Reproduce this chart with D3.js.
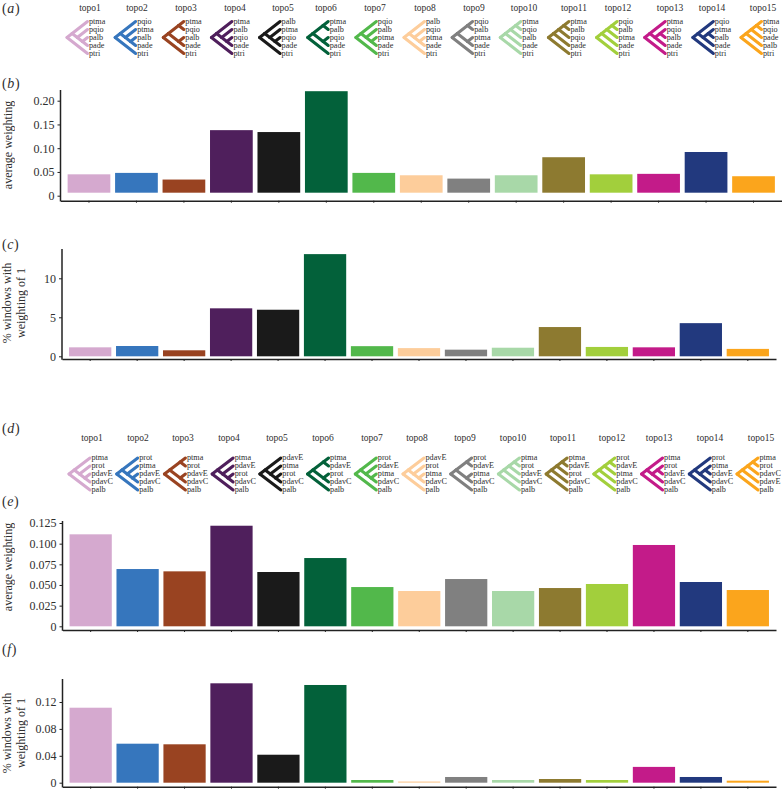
<!DOCTYPE html>
<html>
<head>
<meta charset="utf-8">
<script src="https://cdn.jsdelivr.net/npm/d3@7/dist/d3.min.js"></script>
<style>
  html, body { margin: 0; padding: 0; background: #fff; }
  svg { display: block; }
  text { font-family: "Liberation Serif", serif; fill: #2b2b2b; opacity: 0.98; }
</style>
</head>
<body>
<svg id="chart" width="782" height="789"></svg>
<script>
// ################################### Data #######################################

var topoNames = ["topo1", "topo2", "topo3", "topo4", "topo5", "topo6", "topo7", "topo8",
                 "topo9", "topo10", "topo11", "topo12", "topo13", "topo14", "topo15"];

var topoColors = ["#d5a9cf", "#3676bd", "#994321", "#4f1f5c", "#1a1a1a", "#03613a", "#52b84b", "#fdcd9b",
                  "#808080", "#a8d8a8", "#8d7a30", "#a2cf3c", "#c31b89", "#22397e", "#fba51c"];

// tree shapes, a-d are the ingroup and e the outgroup
var topologies = [
    [["a", ["b", ["c", "d"]]], "e"],
    [["b", ["a", ["c", "d"]]], "e"],
    [[["a", "b"], ["c", "d"]], "e"],
    [["a", ["c", ["b", "d"]]], "e"],
    [["c", ["a", ["b", "d"]]], "e"],
    [[["a", "c"], ["b", "d"]], "e"],
    [["b", ["c", ["a", "d"]]], "e"],
    [["c", ["b", ["a", "d"]]], "e"],
    [[["b", "c"], ["a", "d"]], "e"],
    [[[["a", "b"], "c"], "d"], "e"],
    [[[["a", "c"], "b"], "d"], "e"],
    [[[["b", "c"], "a"], "d"], "e"],
    [["a", [["b", "c"], "d"]], "e"],
    [["b", [["a", "c"], "d"]], "e"],
    [[[["a", "b"], "d"], "c"], "e"]
];

var taxaTop = {a: "ptma", b: "pqio", c: "palb", d: "pade", e: "ptri"};
var taxaBottom = {a: "ptma", b: "prot", c: "pdavE", d: "pdavC", e: "palb"};

var avgWeightTop = [0.045, 0.048, 0.034, 0.138, 0.134, 0.22, 0.048, 0.043, 0.036, 0.043, 0.081, 0.045, 0.046, 0.092, 0.041];
var pctWindowsTop = [1.15, 1.32, 0.77, 6.15, 5.97, 13.1, 1.3, 1.05, 0.85, 1.1, 3.75, 1.2, 1.15, 4.25, 0.95];
var avgWeightBottom = [0.1113, 0.0693, 0.0665, 0.1217, 0.0657, 0.0826, 0.0475, 0.0427, 0.0572, 0.0427, 0.0463, 0.0512, 0.0984, 0.0536, 0.0439];
var pctWindowsBottom = [0.1115, 0.058, 0.0571, 0.1478, 0.0416, 0.1453, 0.004, 0.0018, 0.0085, 0.004, 0.0055, 0.004, 0.0235, 0.0085, 0.003];

var ticksB = [0, 0.05, 0.10, 0.15, 0.20];
var ticksC = [0, 5, 10];
var ticksE = [0, 0.025, 0.05, 0.075, 0.1, 0.125];
var ticksF = [0, 0.04, 0.08, 0.12];

// ################################### Layout #######################################

var svg = d3.select("#chart");

// headings were placed by hand in the original, so they do not follow the bars
var headerXTop = [90, 137, 186, 235, 283, 326, 375, 425, 474, 524, 574, 618, 670, 712, 763];
var headerXBottom = [92, 138, 183, 229, 277, 323, 372, 417, 465, 513, 563, 612, 659, 710, 761];

function plainTick(d) {
    return d === 0 ? "0" : String(d);
}

// ################################### Trees #######################################

function drawTrees(opts) {
    var g = svg.append("g");
    var rootX = d3.scalePoint().domain(topoNames).range(opts.rootRange);
    var tipY = d3.scaleLinear().domain([0, 4]).range(opts.tipRange);
    var tipW = opts.treeWidth;

    topologies.forEach(function(shape, i) {
        var topo = topoNames[i];
        var root = d3.hierarchy(shape, function(d) { return Array.isArray(d) ? d : null; });

        // work out which tips each node spans
        root.leaves().forEach(function(leaf, k) { leaf.lo = k; leaf.hi = k; });
        root.eachAfter(function(n) {
            if (n.children) {
                n.lo = d3.min(n.children, function(c) { return c.lo; });
                n.hi = d3.max(n.children, function(c) { return c.hi; });
            }
            n.px = rootX(topo) + tipW - (n.hi - n.lo) / 4 * tipW;
            n.py = tipY((n.lo + n.hi) / 2);
        });

        g.append("text")
            .attr("x", opts.headerX[i])
            .attr("y", opts.headerY)
            .attr("text-anchor", "middle")
            .style("font-size", "9.5px")
            .text(topo);

        g.append("g").selectAll("line")
            .data(root.links())
            .enter()
            .append("line")
            .attr("x1", function(d) { return d.source.px; })
            .attr("y1", function(d) { return d.source.py; })
            .attr("x2", function(d) { return d.target.px; })
            .attr("y2", function(d) { return d.target.py; })
            .attr("stroke", topoColors[i])
            .attr("stroke-width", 3)
            .attr("stroke-linecap", "round");

        g.append("g").selectAll("text")
            .data(root.leaves())
            .enter()
            .append("text")
            .attr("x", function(d) { return d.px + 1.5; })
            .attr("y", function(d) { return d.py + 2.4; })
            .style("font-size", "8.2px")
            .text(function(d) { return opts.taxa[d.data]; });
    });
}

// ################################### Bars #######################################

function drawBars(opts) {
    var g = svg.append("g");

    var x = d3.scaleBand()
        .domain(topoNames)
        .range([opts.left, opts.right])
        .paddingInner(0.1)
        .paddingOuter(0.15);

    var y = d3.scaleLinear()
        .domain(opts.domain)
        .range([opts.zeroY, opts.tickTopY]);

    g.selectAll("rect")
        .data(opts.values)
        .enter()
        .append("rect")
        .attr("x", function(d, i) { return x(topoNames[i]); })
        .attr("y", function(d) { return y(d); })
        .attr("width", x.bandwidth())
        .attr("height", function(d) { return y(0) - y(d) - opts.baseGap; })
        .attr("fill", function(d, i) { return topoColors[i]; });

    var axisX = g.append("g")
        .attr("transform", "translate(0," + opts.axisY + ")")
        .call(d3.axisBottom(x).tickSize(2).tickSizeOuter(0).tickFormat(""));

    var axisY = g.append("g")
        .attr("transform", "translate(" + opts.left + ",0)")
        .call(d3.axisLeft(y).tickValues(opts.ticks).tickSize(3).tickSizeOuter(0).tickFormat(opts.format));

    // extend the y axis line to where the x axis starts and past the top tick
    axisY.select(".domain")
        .attr("d", "M0," + opts.axisTopY + "V" + (opts.axisY + 0.8));

    [axisX, axisY].forEach(function(a) {
        a.select(".domain").attr("stroke", "#222").attr("stroke-width", 1.5);
        a.selectAll(".tick line").attr("stroke", "#222").attr("stroke-width", 1);
        a.selectAll(".tick text")
            .style("font-family", '"Liberation Serif", serif')
            .style("font-size", "12px")
            .attr("fill", "#2b2b2b");
    });

    opts.yLabel.forEach(function(line, k) {
        g.append("text")
            .attr("transform", "translate(" + opts.yLabelX[k] + "," + opts.yLabelY + ") rotate(-90)")
            .attr("text-anchor", "middle")
            .style("font-size", "12px")
            .text(line);
    });
}

function panelLabel(letter, yPos) {
    var t = svg.append("text")
        .attr("x", 2)
        .attr("y", yPos)
        .style("font-size", "14px")
        .style("letter-spacing", "0.6px");
    t.append("tspan").text("(");
    t.append("tspan").style("font-style", "italic").text(letter);
    t.append("tspan").text(")");
}

// ################################### Draw #######################################

panelLabel("a", 13);
panelLabel("b", 88);
panelLabel("c", 249);
panelLabel("d", 433);
panelLabel("e", 506);
panelLabel("f", 654);

drawTrees({
    taxa: taxaTop, rootRange: [67, 741], tipRange: [21.5, 53.5], treeWidth: 20.5,
    headerX: headerXTop, headerY: 11
});

drawTrees({
    taxa: taxaBottom, rootRange: [69, 737], tipRange: [458, 490], treeWidth: 21,
    headerX: headerXBottom, headerY: 441
});

drawBars({
    values: avgWeightTop, ticks: ticksB, domain: [0, 0.2], format: function(d) { return d === 0 ? "0" : d.toFixed(2); },
    left: 60.5, right: 782, zeroY: 195.7, tickTopY: 100.7, axisY: 200.7, axisTopY: 90, baseGap: 3,
    yLabel: ["average weighting"], yLabelX: [12], yLabelY: 145
});

drawBars({
    values: pctWindowsTop, ticks: ticksC, domain: [0, 10], format: plainTick,
    left: 62, right: 776, zeroY: 356.3, tickTopY: 278.3, axisY: 359, axisTopY: 249, baseGap: 0,
    yLabel: ["% windows with", "weighting of 1"], yLabelX: [11, 25], yLabelY: 303
});

drawBars({
    values: avgWeightBottom, ticks: ticksE, domain: [0, 0.125], format: function(d) { return d === 0 ? "0" : d.toFixed(3); },
    left: 62.5, right: 776, zeroY: 626.3, tickTopY: 523, axisY: 630, axisTopY: 521, baseGap: 0,
    yLabel: ["average weighting"], yLabelX: [12], yLabelY: 567
});

drawBars({
    values: pctWindowsBottom, ticks: ticksF, domain: [0, 0.12], format: function(d) { return d === 0 ? "0" : d.toFixed(2); },
    left: 62.5, right: 776, zeroY: 782.7, tickTopY: 702, axisY: 786.7, axisTopY: 679, baseGap: 0,
    yLabel: ["% windows with", "weighting of 1"], yLabelX: [11, 25], yLabelY: 733
});
</script>
</body>
</html>
